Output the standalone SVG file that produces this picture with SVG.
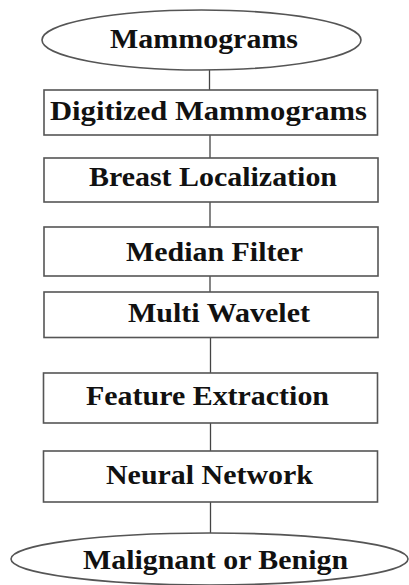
<svg xmlns="http://www.w3.org/2000/svg" width="409" height="585" viewBox="0 0 409 585">
<style>
.shape{fill:#fff;stroke:#555;stroke-width:1.6}
.lbl{font-family:"Liberation Serif","Times New Roman",serif;font-weight:bold;font-size:28px;fill:#111}
.conn line{stroke:#444;stroke-width:1.3}
</style>
<rect width="409" height="585" fill="#fff"/>
<g class="conn" id="connectors">
<line x1="209.5" y1="70" x2="209.5" y2="90"/>
<line x1="210" y1="135" x2="210" y2="158"/>
<line x1="210" y1="202" x2="210" y2="227"/>
<line x1="210" y1="276" x2="210" y2="292"/>
<line x1="210.5" y1="337" x2="210.5" y2="373"/>
<line x1="210.5" y1="423" x2="210.5" y2="451"/>
<line x1="210.5" y1="502" x2="210.5" y2="533"/>
</g>
<g id="mammograms">
<ellipse class="shape" cx="201.5" cy="40" rx="159.5" ry="30"/>
<text class="lbl" x="110" y="48" textLength="188" lengthAdjust="spacingAndGlyphs">Mammograms</text>
</g>
<g id="digitized">
<rect class="shape" x="44" y="90" width="333.5" height="45"/>
<text class="lbl" x="50" y="119.5" textLength="317" lengthAdjust="spacingAndGlyphs">Digitized Mammograms</text>
</g>
<g id="breast">
<rect class="shape" x="44" y="158" width="334" height="44"/>
<text class="lbl" x="89" y="186" textLength="248" lengthAdjust="spacingAndGlyphs">Breast Localization</text>
</g>
<g id="median">
<rect class="shape" x="44" y="227" width="334" height="49"/>
<text class="lbl" x="126" y="261" textLength="177" lengthAdjust="spacingAndGlyphs">Median Filter</text>
</g>
<g id="multiwavelet">
<rect class="shape" x="44" y="292" width="334" height="45.5"/>
<text class="lbl" x="128" y="322" textLength="182" lengthAdjust="spacingAndGlyphs">Multi Wavelet</text>
</g>
<g id="feature">
<rect class="shape" x="43.5" y="373" width="334" height="50"/>
<text class="lbl" x="86" y="404.5" textLength="243" lengthAdjust="spacingAndGlyphs">Feature Extraction</text>
</g>
<g id="neural">
<rect class="shape" x="43.5" y="451" width="334" height="51"/>
<text class="lbl" x="106" y="484" textLength="207" lengthAdjust="spacingAndGlyphs">Neural Network</text>
</g>
<g id="result">
<ellipse class="shape" cx="209.5" cy="559" rx="198.5" ry="26"/>
<text class="lbl" x="83" y="568.5" textLength="265" lengthAdjust="spacingAndGlyphs">Malignant or Benign</text>
</g>
</svg>
